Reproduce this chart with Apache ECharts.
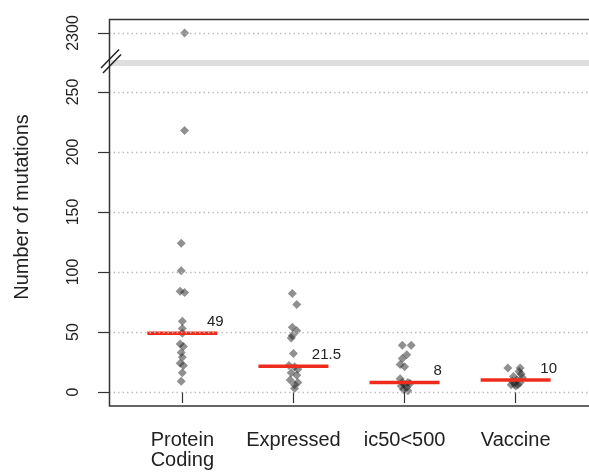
<!DOCTYPE html>
<html>
<head>
<meta charset="utf-8">
<script src="https://cdn.jsdelivr.net/npm/echarts@6.0.0/dist/echarts.min.js"></script>
<style>
html, body { margin: 0; padding: 0; background: #fff; }
#chart { width: 589px; height: 473px; }
</style>
</head>
<body>
<div id="chart"></div>
<script>
// categories
const groups = ['Protein\nCoding', 'Expressed', 'ic50<500', 'Vaccine']

// values per group, with the small horizontal jitter
const proteinCoding = [2300, 218, 124, 101, 84, 83, 59, 53, 49, 40, 38, 33, 29, 24, 22, 16, 9]
const proteinJitter = [0.02, 0.02, -0.01, -0.01, -0.02, 0.02, 0, 0, 0, -0.02, 0.01, -0.01, 0, -0.02, 0.01, 0, -0.01]
const expressed = [82, 73, 54, 51, 47, 45, 32, 22, 21, 19, 16, 14, 10, 8, 6, 3]
const expressedJitter = [-0.01, 0.03, -0.01, 0.03, -0.01, -0.02, 0, -0.04, 0.01, 0.04, -0.02, 0.03, -0.03, 0.04, 0.01, 0.01]
const ic50 = [39, 39, 31, 28, 23, 21, 11, 8, 8, 7, 6, 5, 4, 2, 1]
const ic50Jitter = [-0.02, 0.06, 0.02, -0.02, -0.04, 0, -0.04, 0.03, -0.02, 0.05, 0, -0.03, 0.02, -0.01, 0.03]
const vaccine = [20, 20, 17, 15, 13, 12, 10, 9, 8, 7, 6, 6, 5]
const vaccineJitter = [-0.07, 0.04, 0.03, 0.05, -0.02, 0.06, 0.01, -0.03, 0.04, -0.01, 0.02, -0.04, 0]

// medians (red bars and their labels)
const medians = [49, 21.5, 8, 10]

// tick labels
const lowerTicks = [0, 50, 100, 150, 200, 250]
const upperTicks = [2300]
const breakAt = 1000

const allValues = [proteinCoding, expressed, ic50, vaccine]
const allJitter = [proteinJitter, expressedJitter, ic50Jitter, vaccineJitter]

const upperPoints = []
const lowerPoints = []
allValues.forEach((vals, g) => {
  vals.forEach((v, i) => {
    const pt = [g + 1 + allJitter[g][i], v]
    if (v > breakAt) upperPoints.push(pt)
    else lowerPoints.push(pt)
  })
})

const font = 'Liberation Sans'
const textColor = '#222'
const red = '#ee2c1e'
const pointColor = 'rgba(30,30,30,0.62)'
const gridLine = { color: '#bdbdbd', width: 1.3, type: [1.5, 3] }

const chart = echarts.init(document.getElementById('chart'))

const xBase = {
  type: 'value',
  min: 0.34,
  max: 4.66,
  splitLine: { show: false },
  axisLine: { show: false }
}

const yLabel = { rotate: 90, fontFamily: font, fontSize: 16, color: textColor, margin: 27, formatter: v => String(v) }

const option = {
  animation: false,
  grid: [
    { left: 109, right: 0, top: 19, height: 41 },
    { left: 109, right: 0, top: 66, height: 340 }
  ],
  xAxis: [
    Object.assign({ gridIndex: 0, show: false }, xBase),
    Object.assign({
      gridIndex: 1,
      axisTick: { show: true, length: 11, customValues: [1, 2, 3, 4], lineStyle: { color: '#333', width: 1.2 } },
      axisLabel: {
        customValues: [1, 2, 3, 4],
        formatter: v => groups[Math.round(v) - 1],
        fontFamily: font, fontSize: 20, lineHeight: 20, color: textColor, margin: 24
      }
    }, xBase)
  ],
  yAxis: [
    {
      type: 'value', gridIndex: 0, min: 2277.5, max: 2311.667,
      axisLine: { show: false },
      splitLine: { show: false },
      axisTick: { show: true, length: 11, customValues: upperTicks, lineStyle: { color: '#333', width: 1.2 } },
      axisLabel: Object.assign({ customValues: upperTicks }, yLabel)
    },
    {
      type: 'value', gridIndex: 1, min: -11.667, max: 271.667,
      axisLine: { show: false },
      splitLine: { show: false },
      axisTick: { show: true, length: 11, customValues: lowerTicks, lineStyle: { color: '#333', width: 1.2 } },
      axisLabel: Object.assign({ customValues: lowerTicks }, yLabel)
    }
  ],
  series: [
    {
      type: 'scatter', xAxisIndex: 0, yAxisIndex: 0,
      symbol: 'diamond', symbolSize: 9,
      itemStyle: { color: pointColor },
      data: upperPoints,
      markLine: {
        silent: true, symbol: 'none', label: { show: false },
        lineStyle: gridLine,
        data: upperTicks.map(t => ({ yAxis: t }))
      },
      z: 3
    },
    {
      type: 'scatter', xAxisIndex: 1, yAxisIndex: 1,
      symbol: 'diamond', symbolSize: 9,
      itemStyle: { color: pointColor },
      data: lowerPoints,
      markLine: {
        silent: true, symbol: 'none', label: { show: false },
        lineStyle: gridLine,
        data: lowerTicks.map(t => ({ yAxis: t }))
      },
      z: 3
    },
    {
      type: 'custom', xAxisIndex: 1, yAxisIndex: 1,
      data: medians.map((m, i) => [i + 1, m]),
      z: 4,
      renderItem: (params, api) => {
        const x = api.value(0)
        const m = api.value(1)
        const a = api.coord([x - 0.315, m])
        const b = api.coord([x + 0.315, m])
        return {
          type: 'group',
          children: [
            { type: 'line', shape: { x1: a[0], y1: a[1], x2: b[0], y2: b[1] }, style: { stroke: red, lineWidth: 3.5 } },
            {
              type: 'text', x: b[0] - 2, y: b[1] - 4,
              style: { text: String(medians[params.dataIndex]), fontFamily: font, fontSize: 15, fill: textColor, align: 'center', verticalAlign: 'bottom' }
            }
          ]
        }
      }
    }
  ],
  graphic: [
    // plot frame
    { type: 'rect', shape: { x: 109.5, y: 19.5, width: 482, height: 386.5 }, style: { fill: 'none', stroke: '#333', lineWidth: 1.5 }, z: 10 },
    // axis break band
    { type: 'rect', shape: { x: 110.5, y: 60, width: 480, height: 6 }, style: { fill: '#dedede' }, z: 10 },
    { type: 'line', shape: { x1: 101, y1: 68, x2: 119, y2: 49.5 }, style: { stroke: '#222', lineWidth: 1.5 }, z: 11 },
    { type: 'line', shape: { x1: 103, y1: 73, x2: 121, y2: 54.5 }, style: { stroke: '#222', lineWidth: 1.5 }, z: 11 },
    // y axis title
    {
      type: 'text', x: 22, y: 207, rotation: Math.PI / 2,
      style: { text: 'Number of mutations', fontFamily: font, fontSize: 20, fill: textColor, align: 'center', verticalAlign: 'middle' }
    }
  ]
}

chart.setOption(option)
</script>
</body>
</html>
